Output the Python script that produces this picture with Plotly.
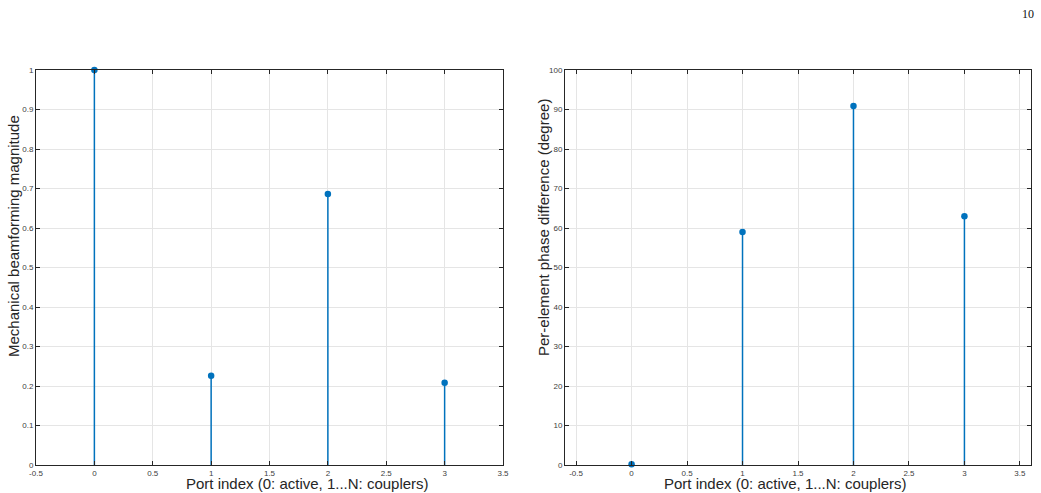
import plotly.graph_objects as go

ports = [0, 1, 2, 3]
magnitude = [1.0, 0.226, 0.686, 0.208]
phase_deg = [0.2, 59.0, 90.9, 63.0]

left_xticks = [-0.5, 0, 0.5, 1, 1.5, 2, 2.5, 3, 3.5]
left_yticks = [0, 0.1, 0.2, 0.3, 0.4, 0.5, 0.6, 0.7, 0.8, 0.9, 1]
right_yticks = [0, 10, 20, 30, 40, 50, 60, 70, 80, 90, 100]

blue = "#0072BD"
W, H = 1041, 493

fig = go.Figure()

def stem(xs, ys, xa, ya):
    fig.add_trace(go.Scatter(
        x=xs, y=ys, mode="markers", xaxis=xa, yaxis=ya,
        marker=dict(color=blue, size=6.5, symbol="circle"),
        error_y=dict(type="data", symmetric=False, array=[0] * len(ys),
                     arrayminus=ys, color=blue, thickness=1.5, width=0),
        showlegend=False, cliponaxis=False))

stem(ports, magnitude, "x", "y")
stem(ports, phase_deg, "x2", "y2")

ydom = [1 - 465 / H, 1 - 70 / H]
axis_common = dict(showline=True, linecolor="#262626", linewidth=1, mirror="ticks",
                   ticks="inside", ticklen=4, tickcolor="#262626", tickwidth=1,
                   showgrid=True, gridcolor="#e5e5e5", gridwidth=1, zeroline=False,
                   automargin=False,
                   tickfont=dict(family="Liberation Sans, Arial", size=8, color="#404040"))

fig.update_layout(
    width=W, height=H, margin=dict(l=0, r=0, t=0, b=0),
    paper_bgcolor="white", plot_bgcolor="white",
    xaxis=dict(domain=[36 / W, 503 / W], range=[-0.5, 3.5], tickvals=left_xticks,
               ticktext=[f"{v:g}" for v in left_xticks], anchor="y",
               ticklabelstandoff=0, **axis_common),
    yaxis=dict(domain=ydom, range=[0, 1], tickvals=left_yticks,
               ticktext=[f"{v:g}" for v in left_yticks], anchor="x", **axis_common),
    xaxis2=dict(domain=[565 / W, 1031 / W], range=[-0.6, 3.6], tickvals=left_xticks,
                ticktext=[f"{v:g}" for v in left_xticks], anchor="y2",
                ticklabelstandoff=0, **axis_common),
    yaxis2=dict(domain=ydom, range=[0, 100], tickvals=right_yticks,
                ticktext=[f"{v:g}" for v in right_yticks], anchor="x2", **axis_common),
)

title_font = dict(family="Liberation Sans, Arial", size=15, color="#262626")
ann = [
    dict(text="Port index (0: active, 1...N: couplers)", x=307 / W, y=0,
         xref="paper", yref="paper", showarrow=False, font=title_font,
         xanchor="center", yanchor="bottom", borderpad=0),
    dict(text="Port index (0: active, 1...N: couplers)", x=785 / W, y=0,
         xref="paper", yref="paper", showarrow=False, font=title_font,
         xanchor="center", yanchor="bottom", borderpad=0),
    dict(text="Mechanical beamforming magnitude", x=14 / W, y=1 - 236 / H,
         xref="paper", yref="paper", showarrow=False, font=title_font, textangle=-90,
         xanchor="center", yanchor="middle"),
    dict(text="Per-element phase difference (degree)", x=543 / W, y=1 - 228 / H,
         xref="paper", yref="paper", showarrow=False, font=title_font, textangle=-90,
         xanchor="center", yanchor="middle"),
    dict(text="10", x=1028 / W, y=1 - 14 / H, xref="paper", yref="paper",
         showarrow=False, xanchor="center", yanchor="middle",
         font=dict(family="Liberation Serif, Times New Roman", size=12, color="#111111")),
]
fig.update_layout(annotations=ann)

fig.write_html("out.html")
